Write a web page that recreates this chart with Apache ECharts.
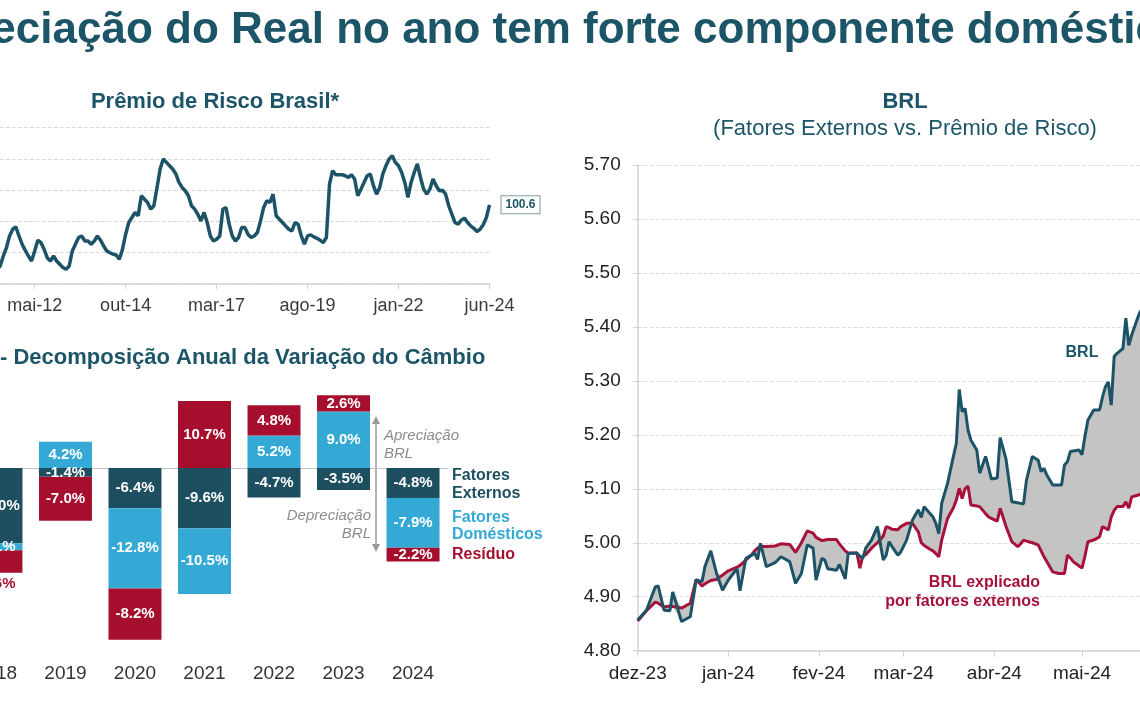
<!DOCTYPE html>
<html><head><meta charset="utf-8">
<script src="https://cdn.jsdelivr.net/npm/echarts@6/dist/echarts.min.js"></script>
<style>html,body{margin:0;padding:0;background:#fff;}#c{width:1140px;height:714px;}</style>
</head><body><div id="c"></div>
<script>
// ---------- DATA ----------
const monthNames = ['jan','fev','mar','abr','mai','jun','jul','ago','set','out','nov','dez'];

// Prêmio de Risco Brasil (monthly, abr-11 .. jun-24)
const riskStartYear = 2011, riskStartMonth = 3; // abril
const riskTicks = ['mai-12','out-14','mar-17','ago-19','jan-22','jun-24'];
const riskValues = [
58.3, 59.4, 61.5, 67.9, 73.3, 80.7, 85.0, 86.5, 80.7, 75.4,
71.5, 67.9, 64.7, 71.1, 78.0, 76.5, 72.2, 66.8, 64.7, 67.9,
64.7, 62.6, 60.5, 59.4, 61.5, 71.1, 75.4, 79.7, 80.7, 77.5,
77.5, 75.4, 77.5, 80.7, 78.0, 74.3, 71.1, 70.0, 69.0, 68.5,
65.8, 72.2, 81.8, 89.3, 92.5, 95.7, 93.6, 106.4, 104.2, 102.1,
97.8, 100.0, 111.7, 123.5, 129.9, 127.7, 125.6, 123.5, 120.3, 114.9,
111.7, 109.6, 106.4, 100.0, 97.8, 94.6, 90.3, 95.7, 89.3, 80.7,
77.5, 78.6, 80.7, 97.8, 98.9, 88.2, 80.7, 77.5, 79.7, 86.1,
86.1, 81.8, 79.7, 80.7, 82.9, 90.3, 98.9, 103.2, 102.1, 107.4,
93.6, 91.4, 89.3, 87.1, 85.0, 83.9, 89.3, 88.2, 80.7, 75.4,
80.7, 81.4, 80.1, 79.2, 78.0, 76.5, 79.7, 113.9, 122.4, 119.8,
119.8, 119.8, 119.2, 118.1, 119.8, 117.1, 106.4, 110.6, 114.9, 119.2,
120.3, 112.8, 107.4, 111.7, 120.3, 125.6, 129.9, 132.0, 127.7, 125.6,
121.3, 114.9, 105.3, 114.9, 121.3, 126.7, 118.1, 110.6, 107.4, 110.6,
117.1, 112.8, 109.6, 110.0, 107.4, 100.0, 94.6, 89.3, 88.2, 90.8,
92.1, 89.3, 87.1, 85.6, 83.5, 85.0, 87.8, 92.5, 100.6
];

// Decomposição anual
const barYears = ['2018','2019','2020','2021','2022','2023','2024'];
const fatoresExternos   = [-12.0, -1.4, -6.4, -9.6, -4.7, -3.5, -4.8];
const fatoresDomesticos = [-1.1, 4.2, -12.8, -10.5, 5.2, 9.0, -7.9];
const residuo           = [-3.6, -7.0, -8.2, 10.7, 4.8, 2.6, -2.2];

// BRL vs BRL explicado por fatores externos
const brlDates = [
'2023-12-01','2023-12-04','2023-12-07','2023-12-08','2023-12-10','2023-12-12','2023-12-13','2023-12-16','2023-12-19','2023-12-21',
'2023-12-23','2023-12-24','2023-12-26','2023-12-28','2023-12-30','2024-01-01','2024-01-04','2024-01-05','2024-01-07','2024-01-09',
'2024-01-10','2024-01-11','2024-01-12','2024-01-14','2024-01-17','2024-01-19','2024-01-22','2024-01-24','2024-01-26','2024-01-28',
'2024-01-30','2024-01-31','2024-02-02','2024-02-03','2024-02-04','2024-02-07','2024-02-08','2024-02-10','2024-02-11','2024-02-14',
'2024-02-15','2024-02-16','2024-02-17','2024-02-19','2024-02-21','2024-02-23','2024-02-24','2024-02-25','2024-02-26','2024-02-28',
'2024-02-29','2024-03-02','2024-03-04','2024-03-06','2024-03-07','2024-03-08','2024-03-10','2024-03-11','2024-03-12','2024-03-13',
'2024-03-14','2024-03-16','2024-03-18','2024-03-19','2024-03-20','2024-03-21','2024-03-22','2024-03-23','2024-03-24','2024-03-26',
'2024-03-27','2024-03-29','2024-03-30','2024-03-31','2024-04-02','2024-04-03','2024-04-05','2024-04-07','2024-04-09','2024-04-10',
'2024-04-11','2024-04-12','2024-04-14','2024-04-16','2024-04-17','2024-04-18','2024-04-19','2024-04-21','2024-04-23','2024-04-24',
'2024-04-25','2024-04-26','2024-04-27','2024-04-28','2024-04-30','2024-05-01','2024-05-02','2024-05-03','2024-05-05','2024-05-07',
'2024-05-08','2024-05-09','2024-05-10','2024-05-11','2024-05-12','2024-05-13','2024-05-15','2024-05-16','2024-05-17','2024-05-18',
'2024-05-20','2024-05-21'
];
const brl = [
4.857,4.875,4.918,4.920,4.875,4.874,4.909,4.854,4.863,4.931,
4.928,4.956,4.985,4.943,4.912,4.931,4.952,4.911,4.971,4.977,
4.981,4.969,4.999,4.956,4.963,4.974,4.965,4.925,4.943,4.996,
4.990,4.931,4.971,4.968,4.952,4.949,4.960,4.933,4.980,4.981,
4.975,4.971,4.990,5.005,5.030,4.968,4.977,5.002,4.993,4.977,
4.983,5.005,5.042,5.061,5.047,5.067,5.054,5.048,5.036,5.017,
5.073,5.110,5.160,5.184,5.284,5.243,5.249,5.209,5.190,5.172,
5.129,5.160,5.140,5.118,5.120,5.195,5.155,5.076,5.074,5.073,
5.072,5.116,5.160,5.153,5.132,5.138,5.125,5.107,5.107,5.107,
5.144,5.150,5.169,5.170,5.172,5.163,5.197,5.227,5.246,5.246,
5.270,5.289,5.298,5.255,5.345,5.351,5.360,5.416,5.366,5.385,
5.416,5.430
];
const brlExplicado = [
4.855,4.874,4.890,4.888,4.881,4.883,4.882,4.879,4.888,4.932,
4.920,4.924,4.930,4.932,4.940,4.948,4.955,4.958,4.968,4.978,
4.985,4.990,4.993,4.993,4.994,4.998,4.997,4.982,5.000,5.022,
5.018,5.010,5.004,5.005,5.006,5.006,4.998,4.985,4.981,4.981,
4.953,4.975,4.978,4.990,5.000,5.012,5.030,5.028,5.025,5.024,
5.030,5.036,5.036,5.020,5.000,4.995,4.988,4.985,4.980,4.974,
5.005,5.045,5.065,5.079,5.101,5.082,5.100,5.105,5.070,5.068,
5.067,5.054,5.048,5.045,5.040,5.064,5.030,5.002,4.993,4.998,
5.005,5.003,5.000,4.996,4.985,4.974,4.965,4.946,4.943,4.943,
4.943,4.977,4.972,4.965,4.957,4.953,4.975,5.002,5.005,5.011,
5.030,5.027,5.024,5.048,5.060,5.067,5.067,5.076,5.064,5.085,
5.088,5.090
];

// ---------- STYLE ----------
const FONT = '"Liberation Sans", Arial, sans-serif';
const TITLE = '#1d5568';
const DARK = '#1e4f60';
const LIGHT = '#34a9d6';
const RED = '#a50f2d';
const LINE_TEAL = '#1c5366';
const LINE_RED = '#a8123a';

const riskCats = riskValues.map((_, i) => {
  const m = riskStartMonth + i;
  const y = riskStartYear + Math.floor(m / 12);
  return monthNames[m % 12] + '-' + String(y).slice(2);
});
const riskTickFn = (idx, val) => riskTicks.indexOf(val) >= 0;
const fmtMonth = v => { const d = new Date(v); return monthNames[d.getMonth()] + '-' + String(d.getFullYear()).slice(2); };

const barLabel = {show: true, position: 'inside', color: '#fff', fontWeight: 'bold', fontSize: 15, fontFamily: FONT,
  formatter: p => p.value.toFixed(1) + '%'};
const residuoData = residuo.map((v, i) => i === 0 ? {value: v, label: {position: 'bottom', color: RED, distance: 4}} : v);

const chart = echarts.init(document.getElementById('c'), null, {renderer: 'canvas'});
const option = {
  animation: false,
  backgroundColor: '#ffffff',
  textStyle: {fontFamily: FONT},
  grid: [
    {left: -6.1, top: 127.5, width: 495.6, height: 156.5, outerBoundsMode: 'none', containLabel: false},
    {left: -38.8, top: 392.8, width: 486.6, height: 263.3, outerBoundsMode: 'none', containLabel: false},
    {left: 637.7, top: 165, width: 532, height: 485.7, outerBoundsMode: 'none', containLabel: false}
  ],
  xAxis: [
    {gridIndex: 0, type: 'category', data: riskCats, boundaryGap: false,
     axisLine: {lineStyle: {color: '#d2d2d2', width: 1.5}},
     axisTick: {show: true, interval: riskTickFn, length: 5, lineStyle: {color: '#d2d2d2'}},
     axisLabel: {interval: riskTickFn, fontSize: 18, color: '#3a3a3a', margin: 13, fontFamily: FONT},
     splitLine: {show: false}},
    {gridIndex: 1, type: 'category', data: barYears,
     axisLine: {show: false}, axisTick: {show: false},
     axisLabel: {fontSize: 19, color: '#333', margin: 8, fontFamily: FONT}},
    {gridIndex: 2, type: 'time', min: '2023-12-01', max: '2024-05-31',
     minInterval: 28 * 86400000, maxInterval: 31 * 86400000,
     axisLine: {lineStyle: {color: '#d2d2d2', width: 1.5}},
     axisTick: {show: true, length: 6, lineStyle: {color: '#d2d2d2'}},
     axisLabel: {formatter: fmtMonth, fontSize: 19, color: '#222', margin: 14, fontFamily: FONT, hideOverlap: false},
     splitLine: {show: false}}
  ],
  yAxis: [
    {gridIndex: 0, type: 'value', min: 50, max: 150, interval: 20,
     axisLabel: {show: false}, axisLine: {show: false}, axisTick: {show: false},
     splitLine: {lineStyle: {type: 'dashed', color: '#d9d9d9'}}},
    {gridIndex: 1, type: 'value', min: -30, max: 12, show: false, splitLine: {show: false}},
    {gridIndex: 2, type: 'value', min: 4.8, max: 5.7, interval: 0.1,
     axisLine: {show: true, lineStyle: {color: '#d2d2d2', width: 1.5}},
     axisTick: {show: true, length: 5, lineStyle: {color: '#d2d2d2'}},
     axisLabel: {formatter: v => v.toFixed(2), fontSize: 19, color: '#222', margin: 17, fontFamily: FONT},
     splitLine: {lineStyle: {type: 'dashed', color: '#dcdcdc'}}}
  ],
  series: [
    {name: 'Prêmio de Risco Brasil', type: 'line', xAxisIndex: 0, yAxisIndex: 0, data: riskValues,
     symbol: 'none', lineStyle: {color: LINE_TEAL, width: 3.5},
     endLabel: {show: true, formatter: p => Number(p.value).toFixed(1), distance: 12,
       color: TITLE, fontSize: 12, fontWeight: 'bold', fontFamily: FONT, backgroundColor: '#fff',
       borderColor: '#7d9aa3', borderWidth: 1, padding: [3, 4, 2, 4]}},
    {name: 'Fatores Externos', type: 'bar', xAxisIndex: 1, yAxisIndex: 1, stack: 'dec', data: fatoresExternos,
     barWidth: 53, itemStyle: {color: DARK}, label: barLabel,
     markLine: {silent: true, symbol: ['none', 'none'], z: 1, label: {show: false},
       lineStyle: {color: '#c4c4c4', width: 1, type: 'solid'}, data: [{yAxis: 0}]}},
    {name: 'Fatores Domésticos', type: 'bar', xAxisIndex: 1, yAxisIndex: 1, stack: 'dec', data: fatoresDomesticos,
     barWidth: 53, itemStyle: {color: LIGHT}, label: barLabel},
    {name: 'Resíduo', type: 'bar', xAxisIndex: 1, yAxisIndex: 1, stack: 'dec', data: residuoData,
     barWidth: 53, itemStyle: {color: RED}, label: barLabel},
    {name: 'base', type: 'line', xAxisIndex: 2, yAxisIndex: 2, stack: 'band', silent: true,
     data: brlDates.map((d, i) => [d, Math.min(brl[i], brlExplicado[i])]),
     symbol: 'none', lineStyle: {opacity: 0}},
    {name: 'gap', type: 'line', xAxisIndex: 2, yAxisIndex: 2, stack: 'band', silent: true,
     data: brlDates.map((d, i) => [d, Math.abs(brl[i] - brlExplicado[i])]),
     symbol: 'none', lineStyle: {opacity: 0}, areaStyle: {color: '#c4c4c4', opacity: 1}},
    {name: 'BRL explicado por fatores externos', type: 'line', xAxisIndex: 2, yAxisIndex: 2,
     data: brlDates.map((d, i) => [d, brlExplicado[i]]),
     symbol: 'none', lineStyle: {color: LINE_RED, width: 3}},
    {name: 'BRL', type: 'line', xAxisIndex: 2, yAxisIndex: 2,
     data: brlDates.map((d, i) => [d, brl[i]]),
     symbol: 'none', lineStyle: {color: LINE_TEAL, width: 3}}
  ],
  graphic: {elements: [
    {type: 'text', x: 539, y: 31, style: {text: 'Depreciação do Real no ano tem forte componente doméstico',
      font: 'bold 44px ' + FONT, fill: TITLE, align: 'center', verticalAlign: 'middle'}},
    {type: 'text', x: 215, y: 102, style: {text: 'Prêmio de Risco Brasil*',
      font: 'bold 22px ' + FONT, fill: TITLE, align: 'center', verticalAlign: 'middle'}},
    {type: 'text', x: 0, y: 358, style: {text: '- Decomposição Anual da Variação do Câmbio',
      font: 'bold 22px ' + FONT, fill: TITLE, align: 'left', verticalAlign: 'middle'}},
    {type: 'text', x: 905, y: 102, style: {text: 'BRL',
      font: 'bold 22px ' + FONT, fill: TITLE, align: 'center', verticalAlign: 'middle'}},
    {type: 'text', x: 905, y: 129, style: {text: '(Fatores Externos vs. Prêmio de Risco)',
      font: '22px ' + FONT, fill: TITLE, align: 'center', verticalAlign: 'middle'}},
    {type: 'text', x: 452, y: 484.5, style: {text: 'Fatores\nExternos', lineHeight: 17.5,
      font: 'bold 16px ' + FONT, fill: DARK, align: 'left', verticalAlign: 'middle'}},
    {type: 'text', x: 452, y: 526, style: {text: 'Fatores\nDomésticos', lineHeight: 17.5,
      font: 'bold 16px ' + FONT, fill: LIGHT, align: 'left', verticalAlign: 'middle'}},
    {type: 'text', x: 452, y: 554.5, style: {text: 'Resíduo',
      font: 'bold 16px ' + FONT, fill: RED, align: 'left', verticalAlign: 'middle'}},
    {type: 'line', shape: {x1: 376, y1: 421, x2: 376, y2: 547}, style: {stroke: '#9a9a9a', lineWidth: 1.5}},
    {type: 'polygon', shape: {points: [[376, 416], [372, 424], [380, 424]]}, style: {fill: '#9a9a9a'}},
    {type: 'polygon', shape: {points: [[376, 552], [372, 544], [380, 544]]}, style: {fill: '#9a9a9a'}},
    {type: 'text', x: 384, y: 445, style: {text: 'Apreciação\nBRL', lineHeight: 18,
      font: 'italic 15px ' + FONT, fill: '#8c8c8c', align: 'left', verticalAlign: 'middle'}},
    {type: 'text', x: 371, y: 525, style: {text: 'Depreciação\nBRL', lineHeight: 18,
      font: 'italic 15px ' + FONT, fill: '#8c8c8c', align: 'right', verticalAlign: 'middle'}},
    {type: 'text', x: 1082, y: 353, style: {text: 'BRL',
      font: 'bold 16px ' + FONT, fill: LINE_TEAL, align: 'center', verticalAlign: 'middle'}},
    {type: 'text', x: 1040, y: 592, style: {text: 'BRL explicado\npor fatores externos', lineHeight: 19,
      font: 'bold 16px ' + FONT, fill: LINE_RED, align: 'right', verticalAlign: 'middle'}}
  ]}
};
chart.setOption(option);
</script>
</body></html>
